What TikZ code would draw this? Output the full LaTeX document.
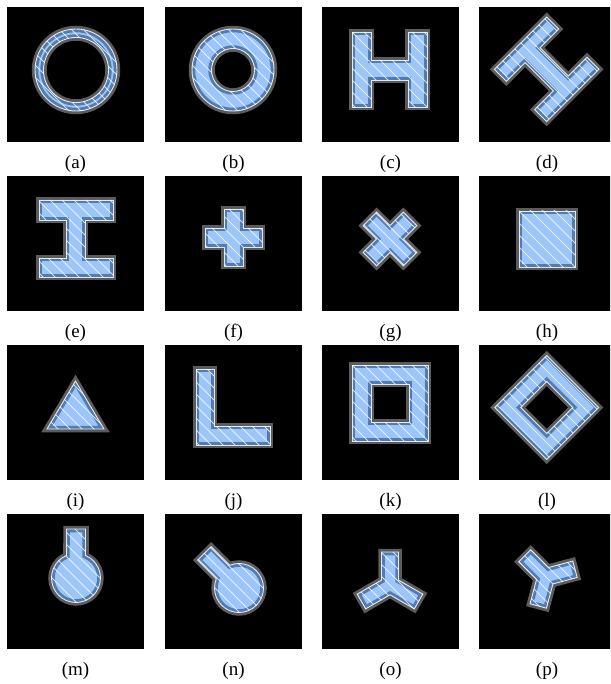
\documentclass[tikz,border=0pt]{standalone}
\usepackage{fontspec}
\setmainfont{Liberation Serif}
\definecolor{shapeblue}{RGB}{75,150,250}
\tikzset{
  panel/.style={fill=black},
  halo/.style={draw=black!64, line width=6.5pt, line join=miter},
  bluefill/.style={fill=shapeblue, fill opacity=0.55},
  hatchline/.style={draw=white, line width=0.9pt, opacity=0.75},
  outline/.style={draw=white, line width=0.9pt, opacity=0.85},
  lbl/.style={inner sep=0pt, font=\fontsize{19}{22}\selectfont},
}
\newcommand\hatchit[2]{%
  \pgftransformreset
  \begin{scope}[x=1pt,y=1pt]
    \foreach \k in {-180,-168,...,180}{\path[hatchline] ({#1+\k-90},{90-#2}) -- ({#1+\k+90},{-90-#2});}
  \end{scope}}
\newcommand\shp[4]{%
  \begin{scope}[even odd rule,#1]
    \path[fill=white] #2;
    \path[halo] #2;
    \path[bluefill] #2;
    \begin{scope}\clip #2; \hatchit{#3}{#4}\end{scope}
    \path[outline] #2;
  \end{scope}}
\def\Hpath{(-37,-37) -- (-20,-37) -- (-20,-10.5) -- (20,-10.5) -- (20,-37) -- (37,-37) -- (37,37) -- (20,37) -- (20,10.5) -- (-20,10.5) -- (-20,37) -- (-37,37) -- cycle}
\def\plusp{(-9.5,28.5) -- (9.5,28.5) -- (9.5,9.5) -- (28.5,9.5) -- (28.5,-9.5) -- (9.5,-9.5) -- (9.5,-28.5) -- (-9.5,-28.5) -- (-9.5,-9.5) -- (-28.5,-9.5) -- (-28.5,9.5) -- (-9.5,9.5) -- cycle}
\def\keyhole{(-9.5,49) -- (9.5,49) -- (9.5,22.58) arc[start angle=67.18, end angle=-247.18, radius=24.5] -- cycle}
\def\tristarA{(75.56:34.08) -- (104.44:34.08) -- (150:9.81) -- (195.56:34.08) -- (224.44:34.08) -- (270:9.81) -- (315.56:34.08) -- (344.44:34.08) -- (30:9.81) -- cycle}
\def\tristarB{(74.18:31.18) -- (105.82:31.18) -- (150:9.81) -- (194.18:31.18) -- (225.82:31.18) -- (270:9.81) -- (314.18:31.18) -- (345.82:31.18) -- (30:9.81) -- cycle}
\begin{document}
\begin{tikzpicture}[x=1pt,y=-1pt]
\useasboundingbox (0,0) rectangle (610,684);
\clip (0,0) rectangle (610,684);
\fill[white] (0,0) rectangle (610,684);
% panels
\foreach \cx in {7,165,322,479}{
  \foreach \cy in {7,176,345,514}{
    \fill[panel] (\cx,\cy) rectangle ++(137,135);
  }
}
% row 1
\shp{shift={(76,70)},x=1pt,y=1pt}{(0,0) circle[radius=41] (0,0) circle[radius=32.5]}{76}{70}
\shp{shift={(233,70)},x=1pt,y=1pt}{(0,0) circle[radius=41] (0,0) circle[radius=21.5]}{233}{70}
\shp{}{(352,32) -- (371,32) -- (371,60) -- (408,60) -- (408,32) -- (427,32) -- (427,107) -- (408,107) -- (408,80) -- (371,80) -- (371,107) -- (352,107) -- cycle}{390}{70}
\shp{shift={(546.7,69.3)},x=1pt,y=1pt,rotate=-45}{\Hpath}{547}{69}
% row 2
\shp{}{(39,200) -- (113,200) -- (113,220) -- (85,220) -- (85,258) -- (113,258) -- (113,277) -- (39,277) -- (39,258) -- (66,258) -- (66,220) -- (39,220) -- cycle}{76}{238}
\shp{shift={(233.5,237.5)},x=1pt,y=1pt}{\plusp}{233}{237}
\shp{shift={(390,239)},x=1pt,y=1pt,rotate=45}{\plusp}{390}{239}
\shp{}{(519,211) rectangle (575,267)}{547}{239}
% row 3
\shp{}{(75.5,381) -- (104,429) -- (47,429) -- cycle}{75}{410}
\shp{}{(196,369) -- (214,369) -- (214,426) -- (270,426) -- (270,445) -- (196,445) -- cycle}{233}{407}
\shp{}{(352,365) rectangle (428,441) (371,384) rectangle (409,422)}{390}{403}
\shp{shift={(546.7,407.5)},x=1pt,y=1pt}{(0,52) -- (52,0) -- (0,-52) -- (-52,0) -- cycle (0,26) -- (26,0) -- (0,-26) -- (-26,0) -- cycle}{547}{407}
% row 4
\shp{shift={(76,578)},x=1pt,y=1pt}{\keyhole}{76}{578}
\shp{shift={(239,588)},x=1pt,y=1pt,rotate=45}{\keyhole}{239}{588}
\shp{shift={(390,585)},x=1pt,y=1pt}{\tristarA}{390}{585}
\shp{shift={(546,577)},x=1pt,y=1pt,rotate=45}{\tristarB}{546}{577}
% labels
\node[lbl] (la) at (75.5,164) {(a)};
\node[lbl] (lb) at (233.5,164) {(b)};
\node[lbl] (lc) at (390.5,164) {(c)};
\node[lbl] (ld) at (547,164) {(d)};
\node[lbl] (le) at (75.5,333) {(e)};
\node[lbl] (lf) at (233.5,333) {(f)};
\node[lbl] (lg) at (390.5,333) {(g)};
\node[lbl] (lh) at (547,333) {(h)};
\node[lbl] (li) at (75.5,502) {(i)};
\node[lbl] (lj) at (233.5,502) {(j)};
\node[lbl] (lk) at (390.5,502) {(k)};
\node[lbl] (ll) at (547,502) {(l)};
\node[lbl] (lm) at (75.5,671) {(m)};
\node[lbl] (ln) at (233.5,671) {(n)};
\node[lbl] (lo) at (390.5,671) {(o)};
\node[lbl] (lp) at (547,671) {(p)};
\end{tikzpicture}
\end{document}
